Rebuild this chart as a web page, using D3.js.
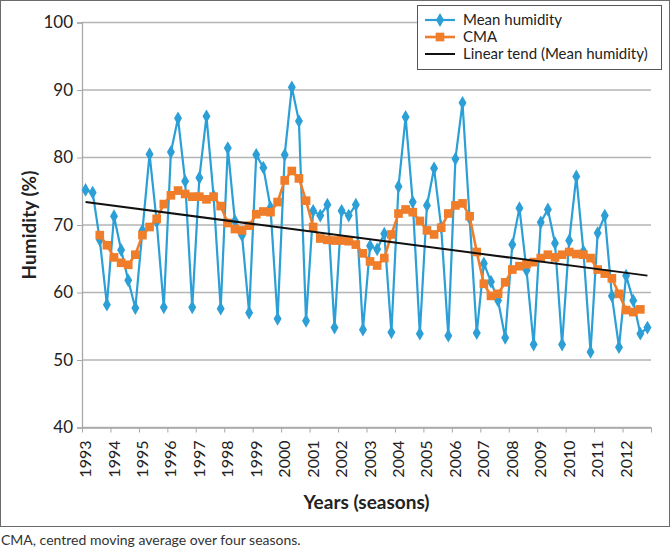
<!DOCTYPE html>
<html>
<head>
<meta charset="utf-8">
<script src="https://cdn.jsdelivr.net/npm/d3@7"></script>
<style>
  body { margin: 0; background: #fff; }
  svg { font-family: Lato, "Open Sans", sans-serif; }
</style>
</head>
<body>
<div id="chart"></div>
<script>
// years on the category axis, one label every four seasons
const years = d3.range(1993, 2013);

// mean humidity, four seasons per year, 1993..2012
const humidity = [
  75.2, 74.8, 67.8, 58.2,
  71.3, 66.3, 61.8, 57.7,
  69.2, 80.5, 70.5, 57.8,
  80.8, 85.8, 76.5, 57.8,
  77.0, 86.1, 74.3, 57.6,
  81.4, 70.6, 68.5, 57.0,
  80.4, 78.5, 72.6, 56.1,
  80.4, 90.4, 85.4, 55.8,
  72.1, 71.4, 73.0, 54.8,
  72.1, 71.4, 73.0, 54.5,
  66.9, 66.4, 68.7, 54.1,
  75.7, 86.0, 73.4, 53.9,
  72.9, 78.4, 69.7, 53.6,
  79.8, 88.1, 71.0, 54.0,
  64.3, 61.6, 58.8, 53.3,
  67.1, 72.5, 63.3, 52.3,
  70.4, 72.3, 67.3, 52.3,
  67.7, 77.2, 66.1, 51.2,
  68.8, 71.4, 59.5, 51.9,
  62.5, 58.8, 53.9, 54.8
];

// centred moving average, starts at the third season
const cmaStart = 2;
const cma = [
  68.5, 67.0, 65.2, 64.4, 64.1, 65.6, 68.5, 69.7, 70.9, 73.1,
  74.4, 75.1, 74.6, 74.2, 74.2, 73.8, 74.2, 72.8, 70.3, 69.4,
  69.2, 69.9, 71.6, 72.0, 71.9, 73.4, 76.6, 78.0, 76.9, 73.6,
  69.7, 68.0, 67.8, 67.7, 67.7, 67.6, 67.1, 65.8, 64.6, 64.0,
  65.1, 68.6, 71.7, 72.3, 71.9, 70.6, 69.2, 68.6, 69.6, 71.7,
  72.9, 73.2, 71.3, 66.0, 61.3, 59.5, 59.8, 61.5, 63.4, 63.9,
  64.2, 64.5, 65.1, 65.6, 65.2, 65.6, 66.0, 65.7, 65.6, 65.1,
  63.4, 62.8, 62.1, 59.8, 57.4, 57.1, 57.5
];

// linear trend, first and last season
const trendEnds = [73.4, 62.5];

const yTicks = [40, 50, 60, 70, 80, 90, 100];

const blue = "#2b9fd6";
const orange = "#ef7d2a";

var width = 670, height = 555;
var margin = { top: 22.5, right: 19, bottom: 127.5, left: 82 };

var svg = d3.select("#chart").append("svg")
  .attr("width", width)
  .attr("height", height);

// chart frame
svg.append("rect")
  .attr("x", 0.5).attr("y", 0.5)
  .attr("width", 669).attr("height", 526)
  .attr("fill", "none")
  .attr("stroke", "#6b6b6b");

var x = d3.scaleLinear()
  .domain([0, humidity.length])
  .range([margin.left, width - margin.right]);
var y = d3.scaleLinear()
  .domain([40, 100])
  .range([height - margin.bottom, margin.top]);

// gridlines
svg.append("g")
  .selectAll("line")
  .data(yTicks)
  .enter()
  .append("line")
  .attr("x1", margin.left)
  .attr("x2", width - margin.right)
  .attr("y1", d => y(d))
  .attr("y2", d => y(d))
  .attr("stroke", "#b4b4b4")
  .attr("stroke-width", 1.3);

// y axis
var yAxis = d3.axisLeft(y).tickValues(yTicks).tickSize(5).tickPadding(4);
svg.append("g")
  .attr("transform", "translate(" + margin.left + ",0)")
  .call(yAxis)
  .call(g => g.select(".domain").attr("stroke", "#a8a8a8").attr("stroke-width", 1.3))
  .call(g => g.selectAll("line").attr("stroke", "#a8a8a8"))
  .call(g => g.selectAll("text")
    .style("font-size", "17px")
    .style("font-family", "Lato, sans-serif")
    .attr("fill", "#222"));

// x axis, ticks between years
var xAxis = d3.axisBottom(x)
  .tickValues(d3.range(0, humidity.length + 1, 4))
  .tickFormat("")
  .tickSize(5)
  .tickSizeOuter(0);
svg.append("g")
  .attr("transform", "translate(0," + y(40) + ")")
  .call(xAxis)
  .call(g => g.select(".domain").attr("stroke", "#a8a8a8").attr("stroke-width", 1.3))
  .call(g => g.selectAll("line").attr("stroke", "#a8a8a8"));

svg.append("g")
  .selectAll("text")
  .data(years)
  .enter()
  .append("text")
  .attr("transform", (d, i) => "translate(" + (x(i * 4 + 0.5) + 5.5) + "," + (y(40) + 13) + ") rotate(-90)")
  .attr("text-anchor", "end")
  .style("font-size", "16px")
  .attr("fill", "#222")
  .text(d => d);

// axis titles
svg.append("text")
  .attr("transform", "translate(36," + y(70) + ") rotate(-90)")
  .attr("text-anchor", "middle")
  .style("font-size", "19px")
  .style("font-weight", "bold")
  .attr("fill", "#222")
  .text("Humidity (%)");

svg.append("text")
  .attr("x", (margin.left + width - margin.right) / 2)
  .attr("y", 509)
  .attr("text-anchor", "middle")
  .style("font-size", "19px")
  .style("font-weight", "bold")
  .attr("fill", "#222")
  .text("Years (seasons)");

// mean humidity
var line = d3.line()
  .x(d => x(d.i + 0.5))
  .y(d => y(d.v));

var humPts = humidity.map((v, i) => ({ i: i, v: v }));
svg.append("path")
  .datum(humPts)
  .attr("d", line)
  .attr("fill", "none")
  .attr("stroke", blue)
  .attr("stroke-width", 2.2);

svg.append("g")
  .selectAll("path")
  .data(humPts)
  .enter()
  .append("path")
  .attr("d", d3.symbol().type(d3.symbolDiamond).size(55))
  .attr("transform", d => "translate(" + x(d.i + 0.5) + "," + y(d.v) + ")")
  .attr("fill", blue);

// CMA
var cmaPts = cma.map((v, i) => ({ i: i + cmaStart, v: v }));
svg.append("path")
  .datum(cmaPts)
  .attr("d", line)
  .attr("fill", "none")
  .attr("stroke", orange)
  .attr("stroke-width", 2.6);

svg.append("g")
  .selectAll("path")
  .data(cmaPts)
  .enter()
  .append("path")
  .attr("d", d3.symbol().type(d3.symbolSquare).size(75))
  .attr("transform", d => "translate(" + x(d.i + 0.5) + "," + y(d.v) + ")")
  .attr("fill", orange);

// linear trend
var trendPts = [
  { i: 0, v: trendEnds[0] },
  { i: humidity.length - 1, v: trendEnds[1] }
];
svg.append("path")
  .datum(trendPts)
  .attr("d", line)
  .attr("fill", "none")
  .attr("stroke", "#111")
  .attr("stroke-width", 2);

// legend
var legend = svg.append("g").attr("transform", "translate(417,5)");
legend.append("rect")
  .attr("x", 0.5).attr("y", 0.5)
  .attr("width", 244).attr("height", 64)
  .attr("fill", "#fff")
  .attr("stroke", "#555");

var items = [
  { name: "Mean humidity", color: blue, sym: d3.symbolDiamond, size: 55, w: 2.2 },
  { name: "CMA", color: orange, sym: d3.symbolSquare, size: 75, w: 2.6 },
  { name: "Linear tend (Mean humidity)", color: "#111", sym: null, w: 2 }
];
var rows = legend.selectAll(".item")
  .data(items)
  .enter()
  .append("g")
  .attr("class", "item")
  .attr("transform", (d, i) => "translate(8," + (15 + i * 17) + ")");
rows.append("line")
  .attr("x1", 0).attr("x2", 30)
  .attr("stroke", d => d.color)
  .attr("stroke-width", d => d.w);
rows.filter(d => d.sym)
  .append("path")
  .attr("d", d => d3.symbol().type(d.sym).size(d.size)())
  .attr("transform", "translate(15,0)")
  .attr("fill", d => d.color);
rows.append("text")
  .attr("x", 38)
  .attr("dy", "0.35em")
  .style("font-size", "15px")
  .attr("fill", "#222")
  .text(d => d.name);

// caption under the chart
svg.append("text")
  .attr("x", 1)
  .attr("y", 545)
  .style("font-size", "14px")
  .attr("fill", "#333")
  .text("CMA, centred moving average over four seasons.");
</script>
</body>
</html>
